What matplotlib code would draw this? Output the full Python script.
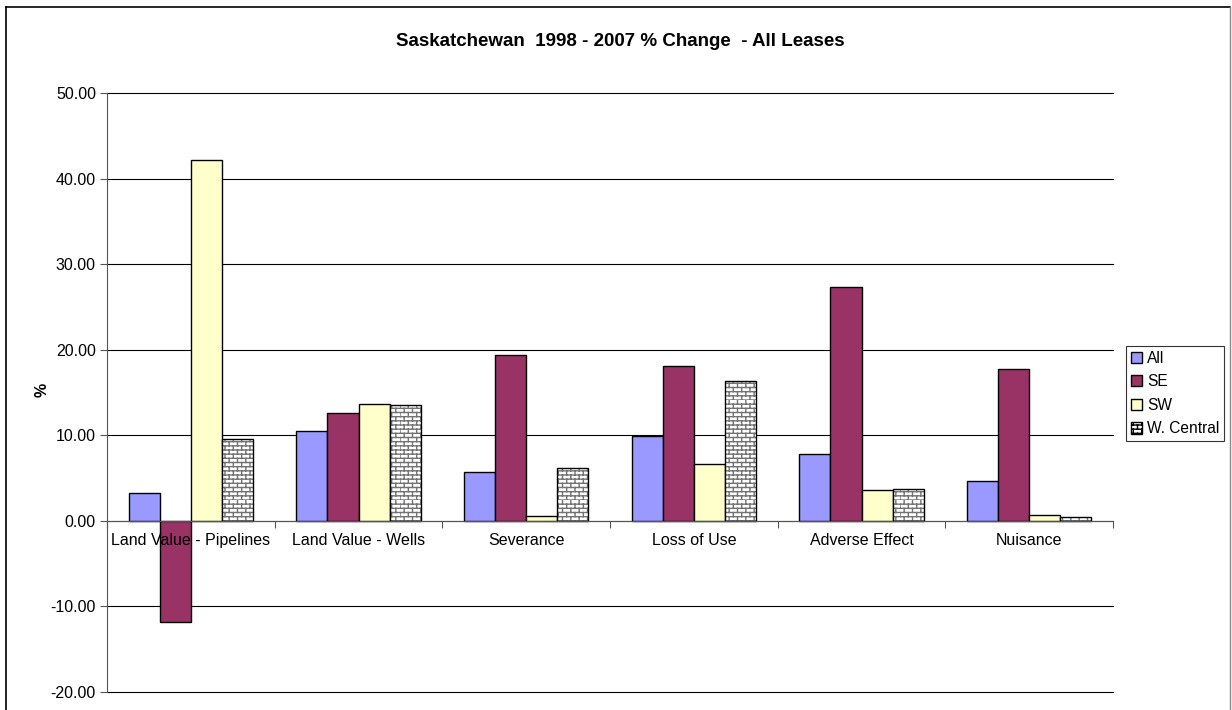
import warnings
import matplotlib
matplotlib.use("Agg")
import matplotlib.pyplot as plt
from matplotlib import hatch as mhatch
from matplotlib.path import Path
from matplotlib.patches import Patch
from matplotlib.lines import Line2D
import numpy as np

warnings.filterwarnings("ignore")

categories = ["Land Value - Pipelines", "Land Value - Wells", "Severance",
              "Loss of Use", "Adverse Effect", "Nuisance"]
series_names = ["All", "SE", "SW", "W. Central"]
all_vals = [3.3, 10.5, 5.7, 9.9, 7.8, 4.6]
se_vals = [-11.8, 12.6, 19.4, 18.1, 27.3, 17.8]
sw_vals = [42.2, 13.6, 0.6, 6.6, 3.6, 0.7]
wc_vals = [9.6, 13.5, 6.2, 16.3, 3.7, 0.5]
y_ticks = [-20, -10, 0, 10, 20, 30, 40, 50]


class BrickHatch(mhatch.HatchPatternBase):
    """Staggered brick pattern, selected with the 'b' hatch character."""

    def __init__(self, hatch, density):
        self.on = "b" in hatch
        self.rows = 24
        self.cols = 12
        self.num_vertices = (self.rows * 2 + self.rows * self.cols * 2) if self.on else 0

    def set_vertices_and_codes(self, vertices, codes):
        k = 0
        for i in range(self.rows):
            y0 = i / self.rows
            y1 = (i + 1) / self.rows
            vertices[k] = (0.0, y0)
            vertices[k + 1] = (1.0, y0)
            codes[k] = Path.MOVETO
            codes[k + 1] = Path.LINETO
            k += 2
            shift = 0.5 * (i % 2)
            for j in range(self.cols):
                xv = ((j + shift) / self.cols) % 1.0
                vertices[k] = (xv, y0)
                vertices[k + 1] = (xv, y1)
                codes[k] = Path.MOVETO
                codes[k + 1] = Path.LINETO
                k += 2


mhatch._hatch_types.append(BrickHatch)

plt.rcParams["font.family"] = ["Liberation Sans", "DejaVu Sans"]
plt.rcParams["hatch.linewidth"] = 1.0

fig = plt.figure(figsize=(12.32, 7.10), dpi=100)
W, H = 1232, 710
ax = fig.add_axes([107 / W, 1 - 692 / H, (1113 - 107) / W, (692 - 93) / H])

x = np.arange(len(categories)) + 0.5
bw = 0.185
colors = ["#9999FF", "#993366", "#FFFFCC"]
for k, (vals, c) in enumerate(zip([all_vals, se_vals, sw_vals], colors)):
    ax.bar(x + (k - 1.5) * bw, vals, bw, color=c, edgecolor="black",
           linewidth=1.0, zorder=3)
# brick-patterned series: hatch layer then outline
ax.bar(x + 1.5 * bw, wc_vals, bw, color="white", edgecolor="#737373",
       hatch="b", linewidth=0, zorder=3)
ax.bar(x + 1.5 * bw, wc_vals, bw, fill=False, edgecolor="black",
       linewidth=1.0, zorder=4)

ax.set_xlim(0, 6)
ax.set_ylim(-20, 50)
ax.set_yticks(y_ticks)
ax.set_yticklabels([f"{v:.2f}" for v in y_ticks], fontsize=11.5)
ax.yaxis.grid(True, color="black", linewidth=0.8, zorder=0)
ax.set_axisbelow(True)
for gl in ax.get_ygridlines():
    gl.set_clip_on(False)

for s in ["top", "right"]:
    ax.spines[s].set_visible(False)
ax.spines["bottom"].set_position(("data", 0))
ax.spines["bottom"].set_color("#555555")
ax.spines["left"].set_color("#555555")
ax.spines["bottom"].set_zorder(5)

ax.set_xticks(np.arange(0, 7))
ax.set_xticklabels([])
ax.set_xticks(x, minor=True)
ax.set_xticklabels(categories, minor=True, fontsize=11.5)
ax.tick_params(axis="x", which="major", direction="out", length=5, color="#555555")
ax.tick_params(axis="x", which="minor", length=0, pad=9)
ax.tick_params(axis="y", direction="out", length=5, color="#555555", pad=3)
# category labels sit on top of the bars
ax.xaxis.set_zorder(6)

fig.text(42 / W, 1 - 390 / H, "%", rotation=90, ha="center", va="center",
         fontsize=11.5, fontweight="bold")

fig.text(620 / W, 1 - 42 / H, "Saskatchewan  1998 - 2007 % Change  - All Leases",
         ha="center", va="center", fontsize=13.5, fontweight="bold")

# outer chart frame
fig.add_artist(Line2D([6 / W, 6 / W], [0, 1 - 7 / H], color="black", lw=1.2,
                      transform=fig.transFigure))
fig.add_artist(Line2D([6 / W, 1230 / W], [1 - 7 / H, 1 - 7 / H], color="black",
                      lw=1.2, transform=fig.transFigure))
fig.add_artist(Line2D([1230 / W, 1230 / W], [0, 1 - 7 / H], color="#888888",
                      lw=1.0, transform=fig.transFigure))

handles = [Patch(facecolor=colors[0], edgecolor="black"),
           Patch(facecolor=colors[1], edgecolor="black"),
           Patch(facecolor=colors[2], edgecolor="black"),
           Patch(facecolor="white", edgecolor="black", hatch="b")]
leg = fig.legend(handles, series_names, loc="upper left",
                 bbox_to_anchor=(1126 / W, 1 - 346 / H), fontsize=11.2,
                 frameon=True, fancybox=False, handlelength=0.75,
                 handleheight=0.75, handletextpad=0.3, labelspacing=0.55,
                 borderpad=0.3, borderaxespad=0)
leg.get_frame().set_edgecolor("black")
leg.get_frame().set_linewidth(0.8)

fig.savefig("out.png", dpi=100)
